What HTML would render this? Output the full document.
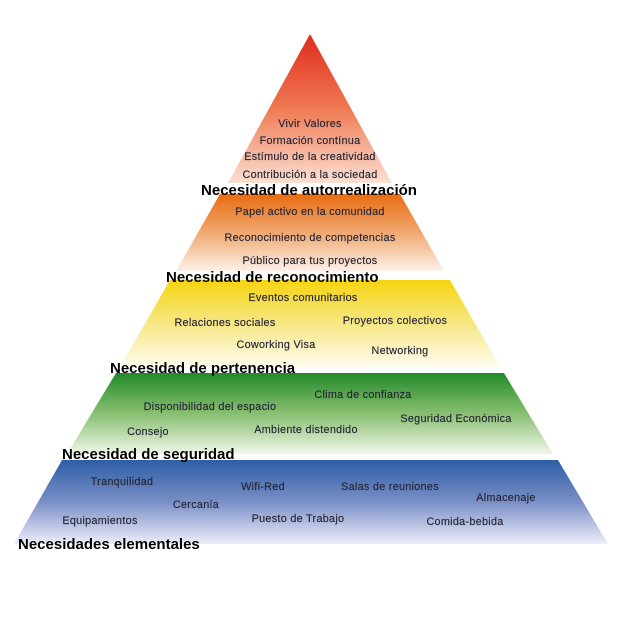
<!DOCTYPE html>
<html><head><meta charset="utf-8"><style>
html,body{margin:0;padding:0;background:#fff;width:620px;height:620px;overflow:hidden}
svg{display:block}
.i{font-family:"Liberation Sans",sans-serif;font-size:10.8px;fill:#262636;letter-spacing:0.3px;stroke:#262636;stroke-width:0.15}
.h{font-family:"Liberation Sans",sans-serif;font-size:15px;font-weight:bold;fill:#000}
</style></head><body>
<svg width="620" height="620" viewBox="0 0 620 620">
<defs>
<linearGradient id="r" x1="0" y1="0" x2="0" y2="1"><stop offset="0" stop-color="#e02a1c"/><stop offset="0.5" stop-color="#ef7a52"/><stop offset="1" stop-color="#fbe0d2"/></linearGradient>
<linearGradient id="o" x1="0" y1="0" x2="0" y2="1"><stop offset="0" stop-color="#e86c10"/><stop offset="0.5" stop-color="#f0a870"/><stop offset="1" stop-color="#fdf0e8"/></linearGradient>
<linearGradient id="y" x1="0" y1="0" x2="0" y2="1"><stop offset="0" stop-color="#f7d40f"/><stop offset="0.5" stop-color="#f6e784"/><stop offset="1" stop-color="#fffbee"/></linearGradient>
<linearGradient id="g" x1="0" y1="0" x2="0" y2="1"><stop offset="0" stop-color="#238a2a"/><stop offset="0.5" stop-color="#88bf70"/><stop offset="1" stop-color="#f0f6ea"/></linearGradient>
<linearGradient id="b" x1="0" y1="0" x2="0" y2="1"><stop offset="0" stop-color="#2d5ea6"/><stop offset="0.5" stop-color="#7a8fc6"/><stop offset="1" stop-color="#eeeefa"/></linearGradient>
</defs>
<polygon points="310,34 392,183 228,183" fill="url(#r)"/>
<polygon points="220,194 400,194 444,271 176,271" fill="url(#o)"/>
<polygon points="170,280 450,280 500,367 120,367" fill="url(#y)"/>
<polygon points="116,373 504,373 553,454 67,454" fill="url(#g)"/>
<polygon points="62,460 558,460 608,544 14,544" fill="url(#b)"/>

<text class="i" x="310" y="127" text-anchor="middle">Vivir Valores</text>
<text class="i" x="310" y="144" text-anchor="middle">Formación contínua</text>
<text class="i" x="310" y="160" text-anchor="middle">Estímulo de la creatividad</text>
<text class="i" x="310" y="178" text-anchor="middle">Contribución a la sociedad</text>
<text class="h" x="309" y="195" text-anchor="middle">Necesidad de autorrealización</text>

<text class="i" x="310" y="215" text-anchor="middle">Papel activo en la comunidad</text>
<text class="i" x="310" y="241" text-anchor="middle">Reconocimiento de competencias</text>
<text class="i" x="310" y="264" text-anchor="middle">Público para tus proyectos</text>
<text class="h" x="166" y="282">Necesidad de reconocimiento</text>

<text class="i" x="303" y="301" text-anchor="middle">Eventos comunitarios</text>
<text class="i" x="225" y="326" text-anchor="middle">Relaciones sociales</text>
<text class="i" x="395" y="324" text-anchor="middle">Proyectos colectivos</text>
<text class="i" x="276" y="348" text-anchor="middle">Coworking Visa</text>
<text class="i" x="400" y="354" text-anchor="middle">Networking</text>
<text class="h" x="110" y="373">Necesidad de pertenencia</text>

<text class="i" x="363" y="398" text-anchor="middle">Clima de confianza</text>
<text class="i" x="210" y="410" text-anchor="middle">Disponibilidad del espacio</text>
<text class="i" x="456" y="422" text-anchor="middle">Seguridad Económica</text>
<text class="i" x="148" y="435" text-anchor="middle">Consejo</text>
<text class="i" x="306" y="433" text-anchor="middle">Ambiente distendido</text>
<text class="h" x="62" y="459">Necesidad de seguridad</text>

<text class="i" x="122" y="485" text-anchor="middle">Tranquilidad</text>
<text class="i" x="263" y="490" text-anchor="middle">Wifi-Red</text>
<text class="i" x="390" y="490" text-anchor="middle">Salas de reuniones</text>
<text class="i" x="506" y="501" text-anchor="middle">Almacenaje</text>
<text class="i" x="196" y="508" text-anchor="middle">Cercanía</text>
<text class="i" x="100" y="524" text-anchor="middle">Equipamientos</text>
<text class="i" x="298" y="522" text-anchor="middle">Puesto de Trabajo</text>
<text class="i" x="465" y="525" text-anchor="middle">Comida-bebida</text>
<text class="h" x="18" y="549">Necesidades elementales</text>
</svg>
</body></html>
